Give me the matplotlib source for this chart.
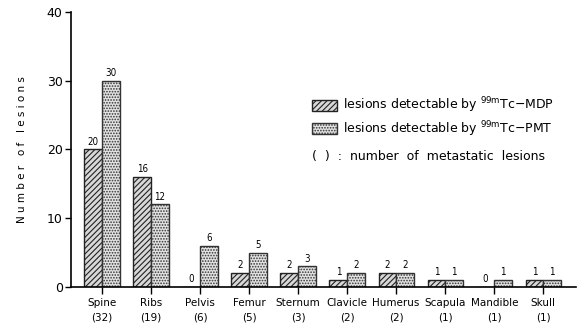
import matplotlib
matplotlib.use("Agg")
import matplotlib.pyplot as plt
import numpy as np
from matplotlib.patches import Patch

plt.rcParams['hatch.linewidth'] = 0.8

categories = ["Spine", "Ribs", "Pelvis", "Femur", "Sternum", "Clavicle", "Humerus", "Scapula", "Mandible", "Skull"]
metastatic = [32, 19, 6, 5, 3, 2, 2, 1, 1, 1]
mdp = [20, 16, 0, 2, 2, 1, 2, 1, 0, 1]
pmt = [30, 12, 6, 5, 3, 2, 2, 1, 1, 1]
yticks = [0, 10, 20, 30, 40]

fig = plt.figure(figsize=(5.84, 3.29), dpi=100)
ax = fig.add_axes([0.1216, 0.128, 0.865, 0.8355])

x = np.arange(len(categories))
w = 0.36
b1 = ax.bar(x - w / 2, mdp, w, facecolor="#d8d8d8", edgecolor="#222222", hatch="//////", linewidth=1.0)
b2 = ax.bar(x + w / 2, pmt, w, facecolor="#e2e2e2", edgecolor="#333333", hatch="......", linewidth=1.0)

for xi, v in zip(x - w / 2, mdp):
    ax.text(xi, v + 0.4, str(v), ha="center", va="bottom", fontsize=7, family="DejaVu Sans", stretch="condensed")
for xi, v in zip(x + w / 2, pmt):
    ax.text(xi, v + 0.4, str(v), ha="center", va="bottom", fontsize=7, family="DejaVu Sans", stretch="condensed")

ax.set_xlim(-0.63, 9.67)
ax.set_ylim(0, 40)
ax.set_yticks(yticks)
ax.set_yticklabels([str(t) for t in yticks], fontsize=9)
ax.set_xticks(x)
ax.set_xticklabels([f"{c}\n({m})" for c, m in zip(categories, metastatic)], fontsize=7.5, linespacing=1.6)
ax.tick_params(axis="x", direction="out", length=5, width=1, pad=3)
ax.tick_params(axis="y", direction="out", length=4, width=1, pad=2)
ax.spines["top"].set_visible(False)
ax.spines["right"].set_visible(False)
ax.spines["left"].set_linewidth(1.2)
ax.spines["bottom"].set_linewidth(1.2)
ax.set_ylabel("N u m b e r   o f   l e s i o n s", fontsize=7.5, labelpad=14)

handles = [
    Patch(facecolor="#d8d8d8", edgecolor="#222222", hatch="//////"),
    Patch(facecolor="#e2e2e2", edgecolor="#333333", hatch="......"),
]
labels = [r"lesions detectable by $^{\mathrm{99m}}$Tc$-$MDP",
          r"lesions detectable by $^{\mathrm{99m}}$Tc$-$PMT"]
leg = ax.legend(handles, labels, loc="upper left", bbox_to_anchor=(0.477, 0.695),
                frameon=False, fontsize=9, handlelength=2.0, handleheight=0.95,
                labelspacing=0.3, handletextpad=0.5, borderaxespad=0, borderpad=0)
fig.text(0.535, 0.525, "(  )  :  number  of  metastatic  lesions", fontsize=9, ha="left", va="center")

fig.savefig("out.png", dpi=100)
